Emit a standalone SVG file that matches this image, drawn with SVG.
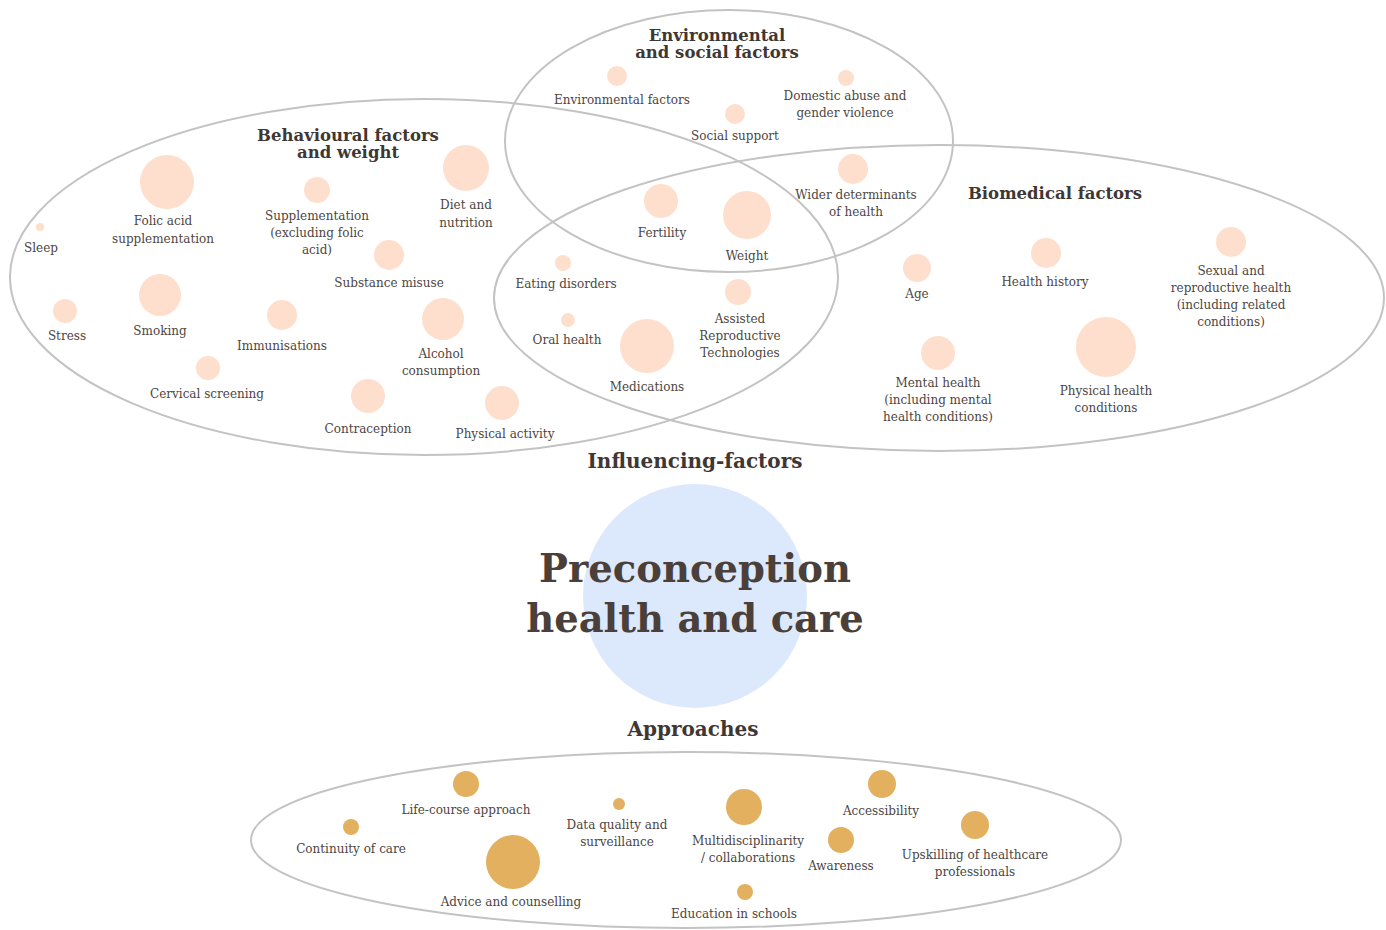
<svg xmlns="http://www.w3.org/2000/svg" width="1386" height="930" viewBox="0 0 1386 930">
<style>
.bg{fill:#ffffff}
.ring{fill:none;stroke:#c3c3c3;stroke-width:2}
.p{fill:#fedfcd}
.g{fill:#e2b05e}
.lbl{font-family:"DejaVu Serif","Liberation Serif",serif;font-size:12px;fill:#4d4542;text-anchor:middle}
.hd{font-family:"DejaVu Serif","Liberation Serif",serif;font-size:16.5px;font-weight:bold;fill:#3f3733;text-anchor:middle}
.sec{font-family:"DejaVu Serif","Liberation Serif",serif;font-size:20px;font-weight:bold;fill:#3f3733;text-anchor:middle}
.ttl{font-family:"DejaVu Serif","Liberation Serif",serif;font-size:38.5px;font-weight:bold;fill:#4b3f3a;text-anchor:middle}
</style>
<rect class="bg" x="0" y="0" width="1386" height="930"/>

<g id="center">
<circle cx="695" cy="596" r="112" fill="#dce8fc"/>
<text class="ttl" x="695" y="582">Preconception</text>
<text class="ttl" x="695" y="632">health and care</text>
</g>

<g id="influencing-factors"><text class="sec" x="695" y="468">Influencing-factors</text></g>
<g id="approaches-title"><text class="sec" x="693" y="736">Approaches</text></g>

<g id="rings">
<ellipse class="ring" cx="424" cy="277" rx="414" ry="178"/>
<ellipse class="ring" cx="729" cy="141" rx="224" ry="131"/>
<ellipse class="ring" cx="939" cy="298" rx="445" ry="153"/>
<ellipse class="ring" cx="686" cy="840" rx="435" ry="88"/>
</g>

<g id="connectors"></g>

<g id="behavioural-title"><text class="hd" x="348" y="141">Behavioural factors</text><text class="hd" x="348" y="158">and weight</text></g>
<g id="environmental-title"><text class="hd" x="717" y="41">Environmental</text><text class="hd" x="717" y="58">and social factors</text></g>
<g id="biomedical-title"><text class="hd" x="1055" y="199">Biomedical factors</text></g>

<g id="sleep"><circle class="p" cx="40" cy="227" r="4"/><text class="lbl" x="41" y="252">Sleep</text></g>
<g id="folic-acid"><circle class="p" cx="167" cy="182" r="27"/><text class="lbl" x="163" y="225">Folic acid</text><text class="lbl" x="163" y="243">supplementation</text></g>
<g id="supplementation"><circle class="p" cx="317" cy="190" r="13"/><text class="lbl" x="317" y="220">Supplementation</text><text class="lbl" x="317" y="237">(excluding folic</text><text class="lbl" x="317" y="254">acid)</text></g>
<g id="diet"><circle class="p" cx="466" cy="168" r="23"/><text class="lbl" x="466" y="209">Diet and</text><text class="lbl" x="466" y="227">nutrition</text></g>
<g id="substance"><circle class="p" cx="389" cy="255" r="15"/><text class="lbl" x="389" y="287">Substance misuse</text></g>
<g id="stress"><circle class="p" cx="65" cy="311" r="12"/><text class="lbl" x="67" y="340">Stress</text></g>
<g id="smoking"><circle class="p" cx="160" cy="295" r="21"/><text class="lbl" x="160" y="335">Smoking</text></g>
<g id="immunisations"><circle class="p" cx="282" cy="315" r="15"/><text class="lbl" x="282" y="350">Immunisations</text></g>
<g id="alcohol"><circle class="p" cx="443" cy="319" r="21"/><text class="lbl" x="441" y="358">Alcohol</text><text class="lbl" x="441" y="375">consumption</text></g>
<g id="cervical"><circle class="p" cx="208" cy="368" r="12"/><text class="lbl" x="207" y="398">Cervical screening</text></g>
<g id="contraception"><circle class="p" cx="368" cy="396" r="17"/><text class="lbl" x="368" y="433">Contraception</text></g>
<g id="physical-activity"><circle class="p" cx="502" cy="403" r="17"/><text class="lbl" x="505" y="438">Physical activity</text></g>

<g id="environmental-factors"><circle class="p" cx="617" cy="76" r="10"/><text class="lbl" x="622" y="104">Environmental factors</text></g>
<g id="domestic-abuse"><circle class="p" cx="846" cy="78" r="8"/><text class="lbl" x="845" y="100">Domestic abuse and</text><text class="lbl" x="845" y="117">gender violence</text></g>
<g id="social-support"><circle class="p" cx="735" cy="114" r="10"/><text class="lbl" x="735" y="140">Social support</text></g>
<g id="wider-determinants"><circle class="p" cx="853" cy="169" r="15"/><text class="lbl" x="856" y="199">Wider determinants</text><text class="lbl" x="856" y="216">of health</text></g>
<g id="fertility"><circle class="p" cx="661" cy="201" r="17"/><text class="lbl" x="662" y="237">Fertility</text></g>
<g id="weight"><circle class="p" cx="747" cy="215" r="24"/><text class="lbl" x="747" y="260">Weight</text></g>

<g id="eating-disorders"><circle class="p" cx="563" cy="263" r="8"/><text class="lbl" x="566" y="288">Eating disorders</text></g>
<g id="oral-health"><circle class="p" cx="568" cy="320" r="7"/><text class="lbl" x="567" y="344">Oral health</text></g>
<g id="medications"><circle class="p" cx="647" cy="346" r="27"/><text class="lbl" x="647" y="391">Medications</text></g>
<g id="art"><circle class="p" cx="738" cy="292" r="13"/><text class="lbl" x="740" y="323">Assisted</text><text class="lbl" x="740" y="340">Reproductive</text><text class="lbl" x="740" y="357">Technologies</text></g>

<g id="age"><circle class="p" cx="917" cy="268" r="14"/><text class="lbl" x="917" y="298">Age</text></g>
<g id="health-history"><circle class="p" cx="1046" cy="253" r="15"/><text class="lbl" x="1045" y="286">Health history</text></g>
<g id="sexual-health"><circle class="p" cx="1231" cy="242" r="15"/><text class="lbl" x="1231" y="275">Sexual and</text><text class="lbl" x="1231" y="292">reproductive health</text><text class="lbl" x="1231" y="309">(including related</text><text class="lbl" x="1231" y="326">conditions)</text></g>
<g id="mental-health"><circle class="p" cx="938" cy="353" r="17"/><text class="lbl" x="938" y="387">Mental health</text><text class="lbl" x="938" y="404">(including mental</text><text class="lbl" x="938" y="421">health conditions)</text></g>
<g id="physical-health"><circle class="p" cx="1106" cy="347" r="30"/><text class="lbl" x="1106" y="395">Physical health</text><text class="lbl" x="1106" y="412">conditions</text></g>

<g id="life-course"><circle class="g" cx="466" cy="784" r="13"/><text class="lbl" x="466" y="814">Life-course approach</text></g>
<g id="continuity"><circle class="g" cx="351" cy="827" r="8"/><text class="lbl" x="351" y="853">Continuity of care</text></g>
<g id="data-quality"><circle class="g" cx="619" cy="804" r="6"/><text class="lbl" x="617" y="829">Data quality and</text><text class="lbl" x="617" y="846">surveillance</text></g>
<g id="advice"><circle class="g" cx="513" cy="862" r="27"/><text class="lbl" x="511" y="906">Advice and counselling</text></g>
<g id="multidisciplinarity"><circle class="g" cx="744" cy="807" r="18"/><text class="lbl" x="748" y="845">Multidisciplinarity</text><text class="lbl" x="748" y="862">/ collaborations</text></g>
<g id="accessibility"><circle class="g" cx="882" cy="784" r="14"/><text class="lbl" x="881" y="815">Accessibility</text></g>
<g id="awareness"><circle class="g" cx="841" cy="840" r="13"/><text class="lbl" x="841" y="870">Awareness</text></g>
<g id="upskilling"><circle class="g" cx="975" cy="825" r="14"/><text class="lbl" x="975" y="859">Upskilling of healthcare</text><text class="lbl" x="975" y="876">professionals</text></g>
<g id="education"><circle class="g" cx="745" cy="892" r="8"/><text class="lbl" x="734" y="918">Education in schools</text></g>
</svg>
